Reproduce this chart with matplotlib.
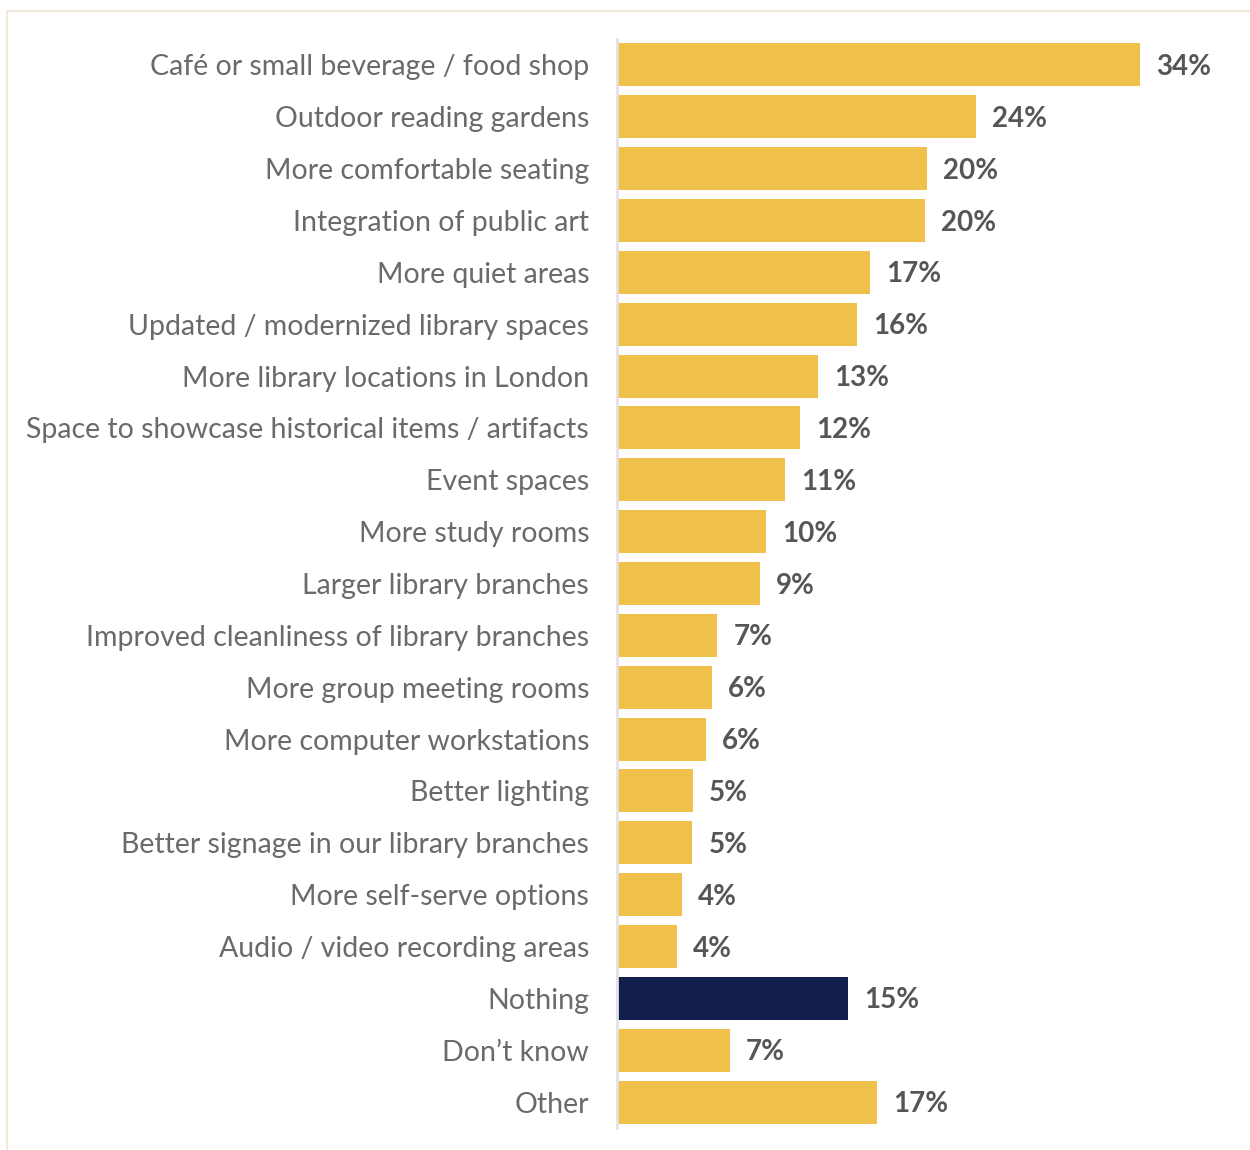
import matplotlib
matplotlib.use("Agg")
import matplotlib.pyplot as plt
from matplotlib.patches import Rectangle

categories = [
    "Café or small beverage / food shop",
    "Outdoor reading gardens",
    "More comfortable seating",
    "Integration of public art",
    "More quiet areas",
    "Updated / modernized library spaces",
    "More library locations in London",
    "Space to showcase historical items / artifacts",
    "Event spaces",
    "More study rooms",
    "Larger library branches",
    "Improved cleanliness of library branches",
    "More group meeting rooms",
    "More computer workstations",
    "Better lighting",
    "Better signage in our library branches",
    "More self-serve options",
    "Audio / video recording areas",
    "Nothing",
    "Don\u2019t know",
    "Other",
]
values = [34.35, 23.6, 20.35, 20.25, 16.6, 15.75, 13.2, 12.0, 11.03, 9.8, 9.4,
          6.6, 6.26, 5.86, 5.01, 4.95, 4.27, 3.94, 15.2, 7.4, 17.1]
highlight = ["Nothing"]

YELLOW = "#EFC14A"
NAVY = "#121F4C"
LABEL_GREY = "#6A6A6A"
VALUE_GREY = "#565656"
FONT = "Lato"

W, H = 1250, 1150
fig = plt.figure(figsize=(W / 100, H / 100), dpi=100)
fig.patch.set_facecolor("white")

# light cream frame around the panel
fig.add_artist(Rectangle((6.5 / W, -0.05), 1.2, (H - 10.5) / H + 0.05,
                         transform=fig.transFigure, fill=False,
                         edgecolor="#F2E9DA", linewidth=1.5))

ax_left, ax_right = 617, 1240
ax_top, ax_bottom = 39, 1128
ax = fig.add_axes([ax_left / W, 1 - ax_bottom / H,
                   (ax_right - ax_left) / W, (ax_bottom - ax_top) / H])

px_per_pct = 523 / 34.35
ax.set_xlim(0, (ax_right - ax_left) / px_per_pct)
ax.set_ylim(len(categories) - 0.5, -0.5)

ys = list(range(len(categories)))
colors = [NAVY if c in highlight else YELLOW for c in categories]
ax.barh(ys, values, height=0.83, color=colors, edgecolor="none")

for y, v in zip(ys, values):
    ax.annotate(f"{round(v):d}%", xy=(v, y), xytext=(16, -2),
                textcoords="offset pixels",
                ha="left", va="center", fontsize=20, fontweight="bold",
                color=VALUE_GREY, family=FONT)

ax.set_yticks(ys)
ax.set_yticklabels(categories, fontsize=20.5, color=LABEL_GREY, family=FONT)
ax.tick_params(axis="y", length=0, pad=20)
ax.set_xticks([])
for s in ["top", "right", "bottom"]:
    ax.spines[s].set_visible(False)
ax.spines["left"].set_color("#E2E2E2")
ax.spines["left"].set_linewidth(2)

fig.savefig("out.png", dpi=100, facecolor="white")
